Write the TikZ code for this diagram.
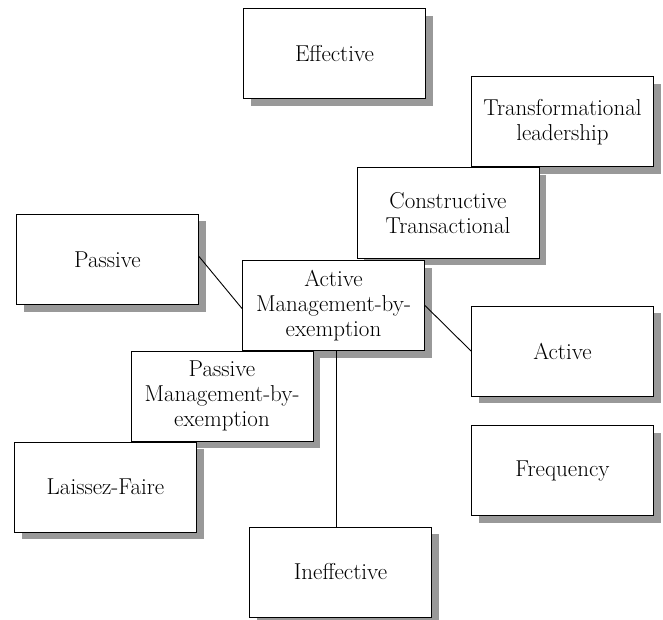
\documentclass[tikz,border=0pt]{standalone}
\usetikzlibrary{shadows}
\definecolor{shadowgray}{HTML}{999999}
\begin{document}
\begin{tikzpicture}[x=1pt,y=-1pt,
  box/.style={draw=black, line width=1pt, fill=white, minimum width=182pt, minimum height=90pt,
    align=center, inner sep=2pt, font=\fontsize{23}{25}\selectfont,
    drop shadow={shadow xshift=7pt, shadow yshift=-7pt, fill=shadowgray, opacity=1}},
  link/.style={draw=black, line width=0.9pt}]
\useasboundingbox (0,0) rectangle (663,620);
\node[box] (eff) at (334.5,54) {Effective};
\node[box] (trf) at (562.5,122) {Transformational\\leadership};
\node[box] (con) at (448,213) {Constructive\\Transactional};
\node[box] (pas) at (107.5,259.5) {Passive};
\node[box] (ambe) at (333.5,305.5) {Active\\Management-by-\\exemption};
\node[box] (act) at (562.5,351) {Active};
\node[box] (pmbe) at (222,396) {Passive\\Management-by-\\exemption};
\node[box] (lf) at (105.5,487) {Laissez-Faire};
\node[box] (freq) at (562.5,470.5) {Frequency};
\node[box] (ineff) at (340.5,572) {Ineffective};
\draw[link] ([yshift=3pt]pas.east) -- ([yshift=-3pt]ambe.west);
\draw[link] (ambe.east) -- (act.west);
\draw[link] ([xshift=2.5pt]ambe.south) -- ([xshift=-4.5pt]ineff.north);
\end{tikzpicture}
\end{document}
